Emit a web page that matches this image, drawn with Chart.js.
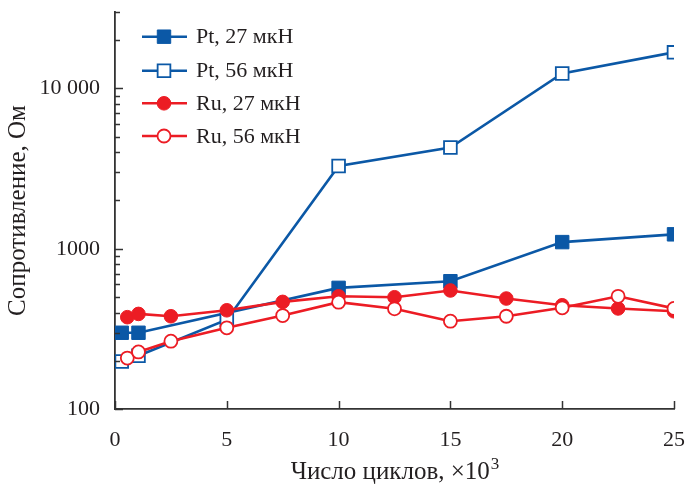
<!DOCTYPE html>
<html>
<head>
<meta charset="utf-8">
<script src="https://cdn.jsdelivr.net/npm/chart.js@4.4.1/dist/chart.umd.min.js"></script>
<style>
  html, body { margin: 0; padding: 0; background: #ffffff; }
  #wrap { width: 685px; height: 485px; position: relative; }
</style>
</head>
<body>
<div id="wrap"><canvas id="c" width="685" height="485"></canvas></div>
<script>
// ---- data ----
const seriesNames = ['Pt, 27 мкН', 'Pt, 56 мкН', 'Ru, 27 мкН', 'Ru, 56 мкН'];
const ptCycles = [0.3, 1.05, 10, 15, 20, 25];
const pt27 = [299, 299, 570, 627, 1100, 1230];
const pt56Cycles = [0.3, 1.05, 5, 10, 15, 20, 25];
const pt56 = [198, 215, 361, 3280, 4280, 12400, 16800];
const ruCycles = [0.55, 1.05, 2.5, 5, 7.5, 10, 12.5, 15, 17.5, 20, 22.5, 25];
const ru27 = [374, 392, 379, 413, 466, 505, 498, 549, 489, 444, 424, 407];
const ru56 = [208, 227, 265, 321, 383, 464, 422, 353, 379, 428, 505, 424];
const xTickValues = [0, 5, 10, 15, 20, 25];
const yMajorTicks = [100, 1000, 10000];
const xTitleMain = 'Число циклов, ×10';
const xTitleSup = '3';
const yTitle = 'Сопротивление, Ом';

const BLUE = '#0b58a6';
const RED = '#ec1c24';
const AXIS = '#333333';
const TEXT = '#231f20';
const FONT = '"Liberation Serif", "Times New Roman", serif';

function pts(xs, ys) { return xs.map((x, i) => ({ x: x, y: ys[i] })); }

const datasets = [
  { label: seriesNames[0], data: pts(ptCycles, pt27), borderColor: BLUE, backgroundColor: BLUE,
    pointStyle: 'rect', pointRadius: 9.5, pointBorderWidth: 1, pointBackgroundColor: BLUE, pointBorderColor: BLUE, order: 3 },
  { label: seriesNames[1], data: pts(pt56Cycles, pt56), borderColor: BLUE, backgroundColor: '#fff',
    pointStyle: 'rect', pointRadius: 9, pointBorderWidth: 1.8, pointBackgroundColor: '#fff', pointBorderColor: BLUE, order: 2 },
  { label: seriesNames[2], data: pts(ruCycles, ru27), borderColor: RED, backgroundColor: RED,
    pointStyle: 'circle', pointRadius: 6.8, pointBorderWidth: 1, pointBackgroundColor: RED, pointBorderColor: RED, order: 1 },
  { label: seriesNames[3], data: pts(ruCycles, ru56), borderColor: RED, backgroundColor: '#fff',
    pointStyle: 'circle', pointRadius: 6.5, pointBorderWidth: 1.8, pointBackgroundColor: '#fff', pointBorderColor: RED, order: 0 }
];
datasets.forEach(d => { d.borderWidth = 2.6; d.tension = 0; d.fill = false; d.pointHoverRadius = d.pointRadius; });

// inward ticks for both axes
const inwardTicks = {
  id: 'inwardTicks',
  afterDatasetsDraw(chart) {
    const ctx = chart.ctx;
    const xs = chart.scales.x, ys = chart.scales.y;
    const area = chart.chartArea;
    ctx.save();
    ctx.strokeStyle = AXIS;
    ctx.lineWidth = 1.5;
    xTickValues.forEach(v => {
      const px = Math.round(xs.getPixelForValue(v)) + 0.5;
      ctx.beginPath();
      ctx.moveTo(px, area.bottom);
      ctx.lineTo(px, area.bottom - 8);
      ctx.stroke();
    });
    for (let dec = 100; dec <= 10000; dec *= 10) {
      for (let m = 1; m <= 9; m++) {
        const v = dec * m;
        if (v < ys.min || v > ys.max + 1) continue;
        const py = Math.round(ys.getPixelForValue(v)) + 0.5;
        const len = (m === 1) ? 8 : 5;
        ctx.beginPath();
        ctx.moveTo(area.left, py);
        ctx.lineTo(area.left + len, py);
        ctx.stroke();
      }
    }
    ctx.restore();
  }
};

// legend inside the plot (top-left) + x title with superscript
const insideLegend = {
  id: 'insideLegend',
  afterDraw(chart) {
    const ctx = chart.ctx;
    const rows = [36.7, 70.7, 103.3, 136];
    ctx.save();
    ctx.font = '22px ' + FONT;
    ctx.textBaseline = 'middle';
    datasets.forEach((d, i) => {
      const y = rows[i];
      ctx.strokeStyle = d.borderColor;
      ctx.lineWidth = 2.6;
      ctx.beginPath();
      ctx.moveTo(142, y);
      ctx.lineTo(187, y);
      ctx.stroke();
      ctx.fillStyle = d.pointBackgroundColor;
      ctx.strokeStyle = d.pointBorderColor;
      ctx.lineWidth = d.pointBorderWidth;
      if (d.pointStyle === 'rect') {
        const s = d.pointRadius * Math.SQRT1_2;
        ctx.beginPath();
        ctx.rect(164 - s, y - s, 2 * s, 2 * s);
        ctx.fill(); ctx.stroke();
      } else {
        ctx.beginPath();
        ctx.arc(164, y, d.pointRadius, 0, Math.PI * 2);
        ctx.fill(); ctx.stroke();
      }
      ctx.fillStyle = TEXT;
      ctx.fillText(d.label, 196, y + 1);
    });

    // x axis title
    const area = chart.chartArea;
    const cx = (area.left + area.right) / 2;
    ctx.textBaseline = 'alphabetic';
    ctx.font = '25px ' + FONT;
    const wMain = ctx.measureText(xTitleMain).width;
    ctx.font = '17px ' + FONT;
    const wSup = ctx.measureText(xTitleSup).width;
    const x0 = cx - (wMain + wSup) / 2;
    ctx.fillStyle = TEXT;
    ctx.font = '25px ' + FONT;
    ctx.textAlign = 'left';
    ctx.fillText(xTitleMain, x0, 479);
    ctx.font = '17px ' + FONT;
    ctx.fillText(xTitleSup, x0 + wMain + 1, 469);
    ctx.restore();
  }
};

new Chart(document.getElementById('c'), {
  type: 'line',
  data: { datasets: datasets },
  plugins: [inwardTicks, insideLegend],
  options: {
    responsive: false,
    animation: false,
    devicePixelRatio: 1,
    layout: { padding: { top: 12, right: 11, left: 0, bottom: 0 } },
    plugins: { legend: { display: false }, tooltip: { enabled: false } },
    scales: {
      x: {
        type: 'linear', min: 0, max: 25,
        afterFit(s) { s.height = 76; s.paddingLeft = 0; s.paddingRight = 0; },
        grid: { display: false, drawTicks: false },
        border: { display: true, color: AXIS, width: 1.8 },
        ticks: {
          stepSize: 5, padding: 18, color: TEXT, maxRotation: 0,
          font: { family: FONT, size: 22 }
        },
        title: { display: false }
      },
      y: {
        type: 'logarithmic', min: 100, max: 30000,
        afterFit(s) { s.width = 115; s.paddingTop = 0; s.paddingBottom = 0; },
        afterBuildTicks(s) { s.ticks = yMajorTicks.map(v => ({ value: v, major: true })); },
        grid: { display: false, drawTicks: false },
        border: { display: true, color: AXIS, width: 1.8 },
        ticks: {
          padding: 15, color: TEXT,
          font: { family: FONT, size: 22 },
          callback(v) { return v === 10000 ? '10 000' : String(v); }
        },
        title: { display: true, text: yTitle, color: TEXT, padding: { top: 3, bottom: 0 },
          font: { family: FONT, size: 25 } }
      }
    }
  }
});
</script>
</body>
</html>
